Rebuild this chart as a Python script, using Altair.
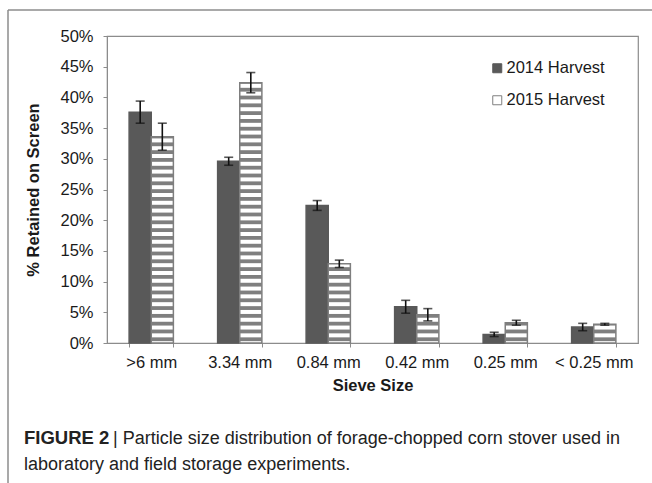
import altair as alt
import pandas as pd

# Sieve classes and the two harvests
sieve = [">6 mm", "3.34 mm", "0.84 mm", "0.42 mm", "0.25 mm", "< 0.25 mm"]
series = ["2014 Harvest", "2015 Harvest"]

# Mean % retained on each screen and its standard deviation
pct_2014 = [37.6, 29.6, 22.4, 5.9, 1.4, 2.6]
err_2014 = [1.8, 0.65, 0.8, 1.05, 0.35, 0.6]
pct_2015 = [33.6, 42.4, 12.9, 4.6, 3.3, 3.05]
err_2015 = [2.2, 1.65, 0.6, 1.0, 0.4, 0.15]

y_ticks = [0, 5, 10, 15, 20, 25, 30, 35, 40, 45, 50]

caption_bold = "FIGURE 2"
caption_line1 = "| Particle size distribution of forage-chopped corn stover used in"
caption_line2 = "laboratory and field storage experiments."

FONT = "Liberation Sans"
FS = 16.5
DARK = "#595959"
GREY = "#7f7f7f"
INK = "#1a1a1a"

rows = []
for s, v, e in zip(sieve, pct_2014, err_2014):
    rows.append({"sieve": s, "series": series[0], "value": v, "lo": v - e, "hi": v + e})
for s, v, e in zip(sieve, pct_2015, err_2015):
    rows.append({"sieve": s, "series": series[1], "value": v, "lo": v - e, "hi": v + e})
df = pd.DataFrame(rows)

# Horizontal hatching for the 2015 bars: thin grey bands inside each bar
period, thick = 1.27, 0.62
hatch = []
for s, v in zip(sieve, pct_2015):
    k = 0
    while k * period + 0.3 < v:
        a = k * period + 0.3
        hatch.append({"sieve": s, "series": series[1], "a": a, "b": min(a + thick, v)})
        k += 1
hatch_df = pd.DataFrame(hatch)

x_scale = alt.Scale(domain=sieve, paddingInner=0.5, paddingOuter=0.25)
x_axis = alt.Axis(
    title="Sieve Size", labelAngle=0, labelFont=FONT, labelFontSize=FS,
    labelColor=INK, labelPadding=7, titleFont=FONT, titleFontSize=FS,
    titleFontWeight="bold", titleColor=INK, titlePadding=7,
    domainColor="#8c8c8c", tickColor="#8c8c8c", tickSize=4, tickBand="extent",
)
y_scale = alt.Scale(domain=[0, 50], nice=False)
y_axis = alt.Axis(
    title="% Retained on Screen", values=y_ticks, labelExpr="datum.value + '%'",
    labelFont=FONT, labelFontSize=FS, labelColor=INK, labelPadding=10,
    titleFont=FONT, titleFontSize=FS, titleFontWeight="bold", titleColor=INK,
    titlePadding=18, domainColor="#8c8c8c", tickColor="#8c8c8c", tickSize=4,
    grid=False,
)
xo = alt.XOffset("series:N", scale=alt.Scale(domain=series))


def xenc():
    return alt.X("sieve:N", sort=sieve, scale=x_scale, axis=x_axis)


def yenc(field):
    return alt.Y(field, type="quantitative", scale=y_scale, axis=y_axis)


bars = alt.Chart(df).mark_bar(strokeWidth=1.5).encode(
    x=xenc(),
    xOffset=xo,
    y=yenc("value"),
    color=alt.Color(
        "series:N",
        scale=alt.Scale(domain=series, range=[DARK, "#ffffff"]),
        legend=alt.Legend(
            title=None, orient="none", legendX=382, legendY=24,
            symbolType="square", symbolSize=81, symbolStrokeColor=GREY,
            symbolStrokeWidth=1, labelFont=FONT, labelFontSize=FS,
            labelColor=INK, rowPadding=15, labelOffset=1, padding=0,
        ),
    ),
    stroke=alt.Stroke("series:N", scale=alt.Scale(domain=series, range=[DARK, GREY]), legend=None),
)

stripes = alt.Chart(hatch_df).mark_bar(color=GREY).encode(
    x=xenc(), xOffset=xo, y=yenc("a"), y2="b"
)

whisker = alt.Chart(df).mark_rule(color="#111111", strokeWidth=1.6).encode(
    x=xenc(), xOffset=xo, y=yenc("lo"), y2="hi"
)
cap_lo = alt.Chart(df).mark_tick(color="#111111", thickness=1.6, size=9).encode(
    x=xenc(), xOffset=xo, y=yenc("lo")
)
cap_hi = alt.Chart(df).mark_tick(color="#111111", thickness=1.6, size=9).encode(
    x=xenc(), xOffset=xo, y=yenc("hi")
)

one = pd.DataFrame({"k": [0]})
frame_left = alt.Chart(one).mark_rule(color="#8c8c8c", strokeWidth=1.5).encode(
    x=alt.value(-99), y=alt.value(-26), y2=alt.value(447)
)
frame_top = alt.Chart(one).mark_rule(color="#8c8c8c", strokeWidth=1.5).encode(
    x=alt.value(-99), x2=alt.value(545), y=alt.value(-26)
)
cap1 = alt.Chart(one).mark_text(
    align="left", baseline="alphabetic", font=FONT, fontSize=18.5, fontWeight="bold", color="#222222"
).encode(x=alt.value(-83), y=alt.value(408), text=alt.value(caption_bold))
cap2 = alt.Chart(one).mark_text(
    align="left", baseline="alphabetic", font=FONT, fontSize=18, color="#222222"
).encode(x=alt.value(6), y=alt.value(408), text=alt.value(caption_line1))
cap3 = alt.Chart(one).mark_text(
    align="left", baseline="alphabetic", font=FONT, fontSize=18, color="#222222"
).encode(x=alt.value(-83), y=alt.value(434), text=alt.value(caption_line2))

chart = alt.layer(
    bars, stripes, whisker, cap_lo, cap_hi, frame_left, frame_top, cap1, cap2, cap3
).properties(
    width=531, height=307,
    padding={"left": 107, "top": 36, "right": 14, "bottom": 140},
    autosize=alt.AutoSizeParams(type="none"),
    background="white",
).configure_view(stroke="#8c8c8c", strokeWidth=1.2)

chart.save("out.html", embed_options={"renderer": "svg", "actions": False})
